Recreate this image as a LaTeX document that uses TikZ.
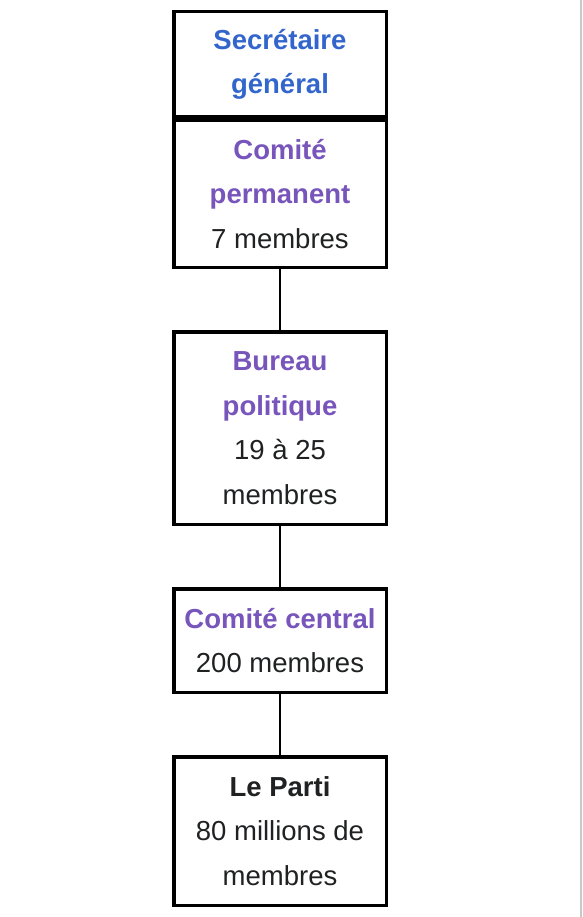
\documentclass[tikz,border=0pt]{standalone}
\usepackage{fontspec}
\setmainfont{Liberation Sans}
\definecolor{wblue}{HTML}{3366CC}
\definecolor{wpurple}{HTML}{7755BB}
\definecolor{wtext}{HTML}{202122}
\definecolor{wgray}{HTML}{C8C8C8}
\begin{document}
\begin{tikzpicture}[x=1pt,y=-1pt,
  box/.style={draw=black, line width=3.5pt, fill=white, minimum width=212.5pt,
    align=center, inner sep=0pt, outer sep=0pt, text=wtext,
    font=\fontsize{27.5}{44.5}\selectfont},
  link/.style={draw=black, line width=1.3pt},
  hb/.style={text=wblue, font=\bfseries},
  hp/.style={text=wpurple, font=\bfseries}]
\fill[white] (0,0) rectangle (582,917);
\useasboundingbox (0,0) rectangle (582,917);
\fill[wgray] (580,0) rectangle (582,917);

\node[box, minimum height=105pt] (sec) at (280,64.25)
  {\textcolor{wblue}{\bfseries Secrétaire}\\\textcolor{wblue}{\bfseries général}};
\node[box, minimum height=147pt] (perm) at (280,193.75)
  {\textcolor{wpurple}{\bfseries Comité}\\\textcolor{wpurple}{\bfseries permanent}\\7 membres};
\node[box, minimum height=192.5pt] (bureau) at (280,428)
  {\textcolor{wpurple}{\bfseries Bureau}\\\textcolor{wpurple}{\bfseries politique}\\19 à 25\\membres};
\node[box, minimum height=103.5pt] (central) at (280,640.5)
  {\textcolor{wpurple}{\bfseries Comité central}\\200 membres};
\node[box, minimum height=148.5pt] (parti) at (280,831)
  {{\bfseries Le Parti}\\80 millions de\\membres};

\draw[link] ([yshift=-1.75pt]perm.south) -- ([yshift=1.75pt]bureau.north);
\draw[link] ([yshift=-1.75pt]bureau.south) -- ([yshift=1.75pt]central.north);
\draw[link] ([yshift=-1.75pt]central.south) -- ([yshift=1.75pt]parti.north);
\end{tikzpicture}
\end{document}
